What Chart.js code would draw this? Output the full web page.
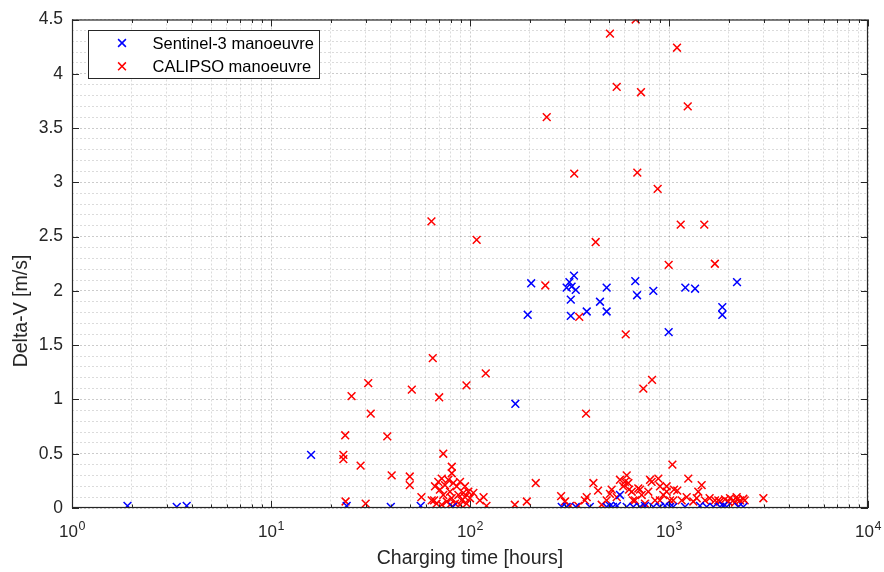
<!DOCTYPE html>
<html>
<head>
<meta charset="utf-8">
<script src="https://cdn.jsdelivr.net/npm/chart.js@4.4.1/dist/chart.umd.min.js"></script>
<style>
  html, body { margin: 0; padding: 0; background: #ffffff; }
  #wrap { width: 884px; height: 572px; }
</style>
</head>
<body>
<div id="wrap"><canvas id="chart" width="884" height="572"></canvas></div>
<script>
// Sentinel-3 manoeuvres: charging time [h] and delta-V [m/s]
const sentinelHours = [1.9, 3.36, 3.77, 15.9, 24, 40, 56.5, 82, 169, 195, 203, 289, 306, 306, 316, 321, 321,
  324, 333, 340, 340, 386, 400, 450, 486, 486, 486, 505, 523, 548, 567, 613, 662, 677, 691, 715, 757,
  834, 834, 901, 955, 996, 1012, 1051, 1204, 1208, 1352, 1431, 1547, 1670, 1804, 1853, 1853, 1875,
  1950, 2197, 2230, 2363];
const sentinelDv = [0.02, 0.01, 0.02, 0.49, 0.02, 0.01, 0.02, 0.01, 0.96, 1.78, 2.07, 0.01, 2.03, 0.01, 2.08, 1.92, 1.77,
  2.04, 2.14, 2.01, 0.01, 1.81, 0.01, 1.90, 2.03, 1.81, 0.01, 0.02, 0.01, 0.02, 0.12, 0.01, 0.01, 2.09, 1.96, 0.01, 0.02,
  2.00, 0.01, 0.01, 0.02, 1.62, 0.01, 0.01, 0.01, 2.03, 2.02, 0.02, 0.01, 0.01, 0.01, 1.85, 1.78, 0.02,
  0.01, 2.08, 0.01, 0.01];

// CALIPSO manoeuvres
const calipsoHours = [680, 505, 1097, 546, 723, 1242, 243, 334, 693, 877, 64, 108, 1145, 1504, 428, 996, 1700,
  239, 354, 606, 65, 120, 822, 743, 30.8, 96, 25.4, 51, 70, 31.7, 383, 23.6, 38.4, 73.4, 23.1, 23.1, 28.2,
  81, 81, 40.4, 49.8, 49.8, 1040, 1250, 1459, 23.7, 29.9, 57, 66.7, 66,
  64.2, 69.3, 70.6, 72.1, 73.4, 74.9, 76.4, 77.8, 79.3, 80.9, 82.4, 84.1, 85.7, 87.4, 89.1, 90.8, 92.6,
  94.4, 96.2, 98.1, 100, 104, 112, 79.3, 72.1, 67.9, 89.1, 94.4, 117, 121, 168, 193, 214, 287, 300,
  318, 350, 378, 386, 417, 440, 459, 486, 505, 515, 546, 567, 589, 600, 613, 625, 630, 650, 660, 675,
  701, 715, 729, 757, 787, 803, 818, 851, 884, 900, 901, 936, 973, 973, 1012, 1050, 1060, 1100, 1158,
  1227, 1325, 1378, 1403, 1517, 1600, 1703, 1770, 1804, 1911, 1985, 2026, 2104, 2147, 2188, 2200,
  2275, 2363, 2400, 2980];
const calipsoDv = [4.50, 4.37, 4.24, 3.88, 3.83, 3.70, 3.60, 3.08, 3.09, 2.94, 2.64, 2.47, 2.61, 2.61, 2.45, 2.24, 2.25,
  2.05, 1.76, 1.60, 1.38, 1.24, 1.18, 1.10, 1.15, 1.13, 1.03, 1.09, 1.02, 0.87, 0.87, 0.67, 0.66, 0.50, 0.49, 0.45, 0.39,
  0.38, 0.32, 0.30, 0.29, 0.21, 0.40, 0.27, 0.21, 0.06, 0.04, 0.10, 0.20, 0.07,
  0.07, 0.24, 0.17, 0.27, 0.12, 0.21, 0.06, 0.26, 0.15, 0.09, 0.23, 0.04, 0.20, 0.12, 0.24, 0.07, 0.14,
  0.10, 0.04, 0.15, 0.09, 0.14, 0.07, 0.03, 0.03, 0.04, 0.03, 0.20, 0.10, 0.02, 0.03, 0.06, 0.23, 0.11, 0.06,
  0.02, 0.02, 0.07, 0.10, 0.23, 0.16, 0.03, 0.07, 0.13, 0.17, 0.10, 0.26, 0.20, 0.24, 0.30, 0.23, 0.17, 0.15, 0.07, 0.07,
  0.18, 0.17, 0.12, 0.04, 0.15, 0.26, 0.24, 0.07, 0.27, 0.07, 0.20, 0.12, 0.15, 0.20, 0.07, 0.07, 0.17, 0.16, 0.07,
  0.10, 0.06, 0.09, 0.15, 0.07, 0.09, 0.07, 0.07, 0.06, 0.08, 0.06, 0.09, 0.07, 0.05, 0.10, 0.08,
  0.07, 0.085, 0.07, 0.09];

// axis ticks: log decades with 2..9 minors, delta-V every 0.1 with labels every 0.5
const xExponents = [0, 1, 2, 3, 4];
const xMinorSteps = [1, 2, 3, 4, 5, 6, 7, 8, 9];
const yMajorTicks = [0, 0.5, 1, 1.5, 2, 2.5, 3, 3.5, 4, 4.5];
const yMinorStep = 0.1;
const yTitle = 'Delta-V [m/s]';

const xTickValues = [];
xExponents.slice(0, -1).forEach(e => xMinorSteps.forEach(m => xTickValues.push(m * Math.pow(10, e))));
xTickValues.push(Math.pow(10, xExponents[xExponents.length - 1]));
const yTickValues = [];
for (let i = 0; i <= Math.round(4.5 / yMinorStep); i++) yTickValues.push(+(i * yMinorStep).toFixed(1));

const isDecade = v => Math.abs(Math.log10(v) - Math.round(Math.log10(v))) < 1e-9;
const isHalf = v => Math.abs(v * 2 - Math.round(v * 2)) < 1e-6;

const FONT = "'Liberation Sans', Arial, Helvetica, sans-serif";
const AXIS = '#262626';

const toPoints = (xs, ys) => xs.map((x, i) => ({ x, y: ys[i] }));

// box, inward ticks, 10^n labels, y label and the legend, MATLAB style
const axesFrame = {
  id: 'axesFrame',
  afterDatasetsDraw(chart) {
    const { ctx, chartArea: a, scales: { x, y } } = chart;
    ctx.save();
    ctx.strokeStyle = AXIS;
    ctx.lineWidth = 1;
    ctx.beginPath();
    xTickValues.forEach(v => {
      const px = Math.round(x.getPixelForValue(v)) + 0.5;
      const len = isDecade(v) ? 7 : 3.5;
      ctx.moveTo(px, a.bottom); ctx.lineTo(px, a.bottom - len);
      ctx.moveTo(px, a.top); ctx.lineTo(px, a.top + len);
    });
    yMajorTicks.forEach(v => {
      const py = Math.round(y.getPixelForValue(v)) + 0.5;
      ctx.moveTo(a.left, py); ctx.lineTo(a.left + 7, py);
      ctx.moveTo(a.right, py); ctx.lineTo(a.right - 7, py);
    });
    ctx.stroke();
    ctx.lineWidth = 1.2;
    ctx.strokeRect(a.left + 0.5, a.top + 0.5, a.right - a.left - 1, a.bottom - a.top - 1);

    // x tick labels as 10 with a raised exponent
    ctx.fillStyle = AXIS;
    ctx.textBaseline = 'alphabetic';
    ctx.textAlign = 'left';
    xExponents.forEach(e => {
      const px = x.getPixelForValue(Math.pow(10, e));
      ctx.font = `17px ${FONT}`;
      const wBase = ctx.measureText('10').width;
      ctx.font = `12.5px ${FONT}`;
      const wExp = ctx.measureText(String(e)).width;
      const start = px - (wBase + wExp) / 2;
      ctx.font = `17px ${FONT}`;
      ctx.fillText('10', start, a.bottom + 29);
      ctx.font = `12.5px ${FONT}`;
      ctx.fillText(String(e), start + wBase + 0.5, a.bottom + 22);
    });

    // y axis label, rotated
    ctx.save();
    ctx.translate(22, 311);
    ctx.rotate(-Math.PI / 2);
    ctx.font = `19.5px ${FONT}`;
    ctx.textAlign = 'center';
    ctx.textBaseline = 'middle';
    ctx.fillText(yTitle, 0, 0);
    ctx.restore();

    // legend box
    const lx = 88, ly = 30, lw = 231, lh = 48;
    ctx.fillStyle = '#ffffff';
    ctx.fillRect(lx, ly, lw, lh);
    ctx.strokeStyle = AXIS;
    ctx.lineWidth = 1;
    ctx.strokeRect(lx + 0.5, ly + 0.5, lw, lh);
    chart.data.datasets.forEach((ds, i) => {
      const cy = ly + 13 + i * 23.3;
      const cx = 122;
      ctx.strokeStyle = ds.borderColor;
      ctx.lineWidth = 1.5;
      ctx.beginPath();
      ctx.moveTo(cx - 3.9, cy - 3.9); ctx.lineTo(cx + 3.9, cy + 3.9);
      ctx.moveTo(cx - 3.9, cy + 3.9); ctx.lineTo(cx + 3.9, cy - 3.9);
      ctx.stroke();
      ctx.fillStyle = '#000000';
      ctx.font = `16.5px ${FONT}`;
      ctx.textBaseline = 'middle';
      ctx.fillText(ds.label, 152.5, cy + 1);
    });
    ctx.restore();
  }
};

const gridColor = major => major ? 'rgba(0,0,0,0.2)' : 'rgba(0,0,0,0.14)';

new Chart(document.getElementById('chart'), {
  type: 'scatter',
  data: {
    datasets: [
      {
        label: 'Sentinel-3 manoeuvre',
        data: toPoints(sentinelHours, sentinelDv),
        borderColor: '#0000ff',
        backgroundColor: '#0000ff',
        pointStyle: 'crossRot',
        pointRadius: 5.5,
        pointBorderWidth: 1.5
      },
      {
        label: 'CALIPSO manoeuvre',
        data: toPoints(calipsoHours, calipsoDv),
        borderColor: '#ff0000',
        backgroundColor: '#ff0000',
        pointStyle: 'crossRot',
        pointRadius: 5.5,
        pointBorderWidth: 1.5
      }
    ]
  },
  options: {
    responsive: false,
    devicePixelRatio: 1,
    animation: false,
    layout: { padding: { top: 18, right: 16, left: 0, bottom: 0 } },
    plugins: { legend: { display: false }, tooltip: { enabled: false } },
    scales: {
      x: {
        type: 'logarithmic',
        min: 1,
        max: 10000,
        afterBuildTicks: s => { s.ticks = xTickValues.map(v => ({ value: v, major: isDecade(v) })); },
        afterFit: s => { s.height = 64; },
        ticks: { display: false },
        grid: {
          drawTicks: false,
          lineWidth: 1,
          color: c => gridColor(c.tick && isDecade(c.tick.value))
        },
        border: { display: false, dash: [2, 2] },
        title: {
          display: true,
          text: 'Charging time [hours]',
          color: AXIS,
          font: { family: FONT, size: 19.5 },
          padding: { top: 0, bottom: 2 }
        }
      },
      y: {
        type: 'linear',
        min: 0,
        max: 4.5,
        afterBuildTicks: s => { s.ticks = yTickValues.map(v => ({ value: v })); },
        afterFit: s => { s.width = 72; },
        ticks: {
          autoSkip: false,
          padding: 9,
          color: AXIS,
          font: { family: FONT, size: 17.5 },
          callback: v => isHalf(v) ? String(+(+v).toFixed(1)) : ''
        },
        grid: {
          drawTicks: false,
          lineWidth: 1,
          color: c => gridColor(c.tick && isHalf(c.tick.value))
        },
        border: { display: false, dash: [2, 2] }
      }
    }
  },
  plugins: [axesFrame]
});
</script>
</body>
</html>
